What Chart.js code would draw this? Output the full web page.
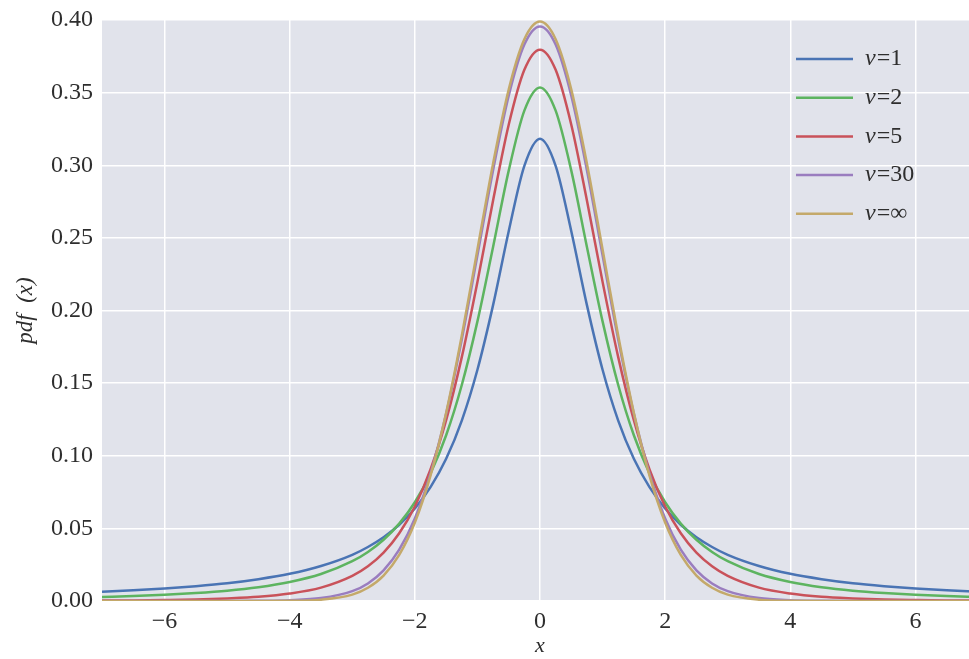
<!DOCTYPE html>
<html>
<head>
<meta charset="utf-8">
<script src="https://cdn.jsdelivr.net/npm/chart.js@4/dist/chart.umd.min.js"></script>
<style>
  html, body { margin: 0; padding: 0; background: #ffffff; overflow: hidden; }
  #wrap { width: 969px; height: 659px; overflow: hidden; }
</style>
</head>
<body>
<div id="wrap"><canvas id="chart" width="978" height="659"></canvas></div>
<script>
// x positions of the sampled points
const xs = [-7, -6.5, -6, -5.5, -5, -4.5, -4, -3.5, -3,
    -2.75, -2.5, -2.25, -2, -1.75, -1.5, -1.25, -1, -0.75, -0.5, -0.25,
    0,
    0.25, 0.5, 0.75, 1, 1.25, 1.5, 1.75, 2, 2.25, 2.5, 2.75,
    3, 3.5, 4, 4.5, 5, 5.5, 6, 6.5, 7];

// pdf values, one array per curve
const nu1 = [0.0064, 0.0074, 0.0086, 0.0102, 0.0122, 0.0150, 0.0187, 0.0241, 0.0318,
    0.0372, 0.0439, 0.0525, 0.0637, 0.0784, 0.0979, 0.1242, 0.1592, 0.2037, 0.2546, 0.2996,
    0.3183,
    0.2996, 0.2546, 0.2037, 0.1592, 0.1242, 0.0979, 0.0784, 0.0637, 0.0525, 0.0439, 0.0372,
    0.0318, 0.0241, 0.0187, 0.0150, 0.0122, 0.0102, 0.0086, 0.0074, 0.0064];
const nu2 = [0.0027, 0.0034, 0.0043, 0.0055, 0.0071, 0.0095, 0.0131, 0.0186, 0.0274,
    0.0338, 0.0422, 0.0533, 0.0680, 0.0878, 0.1141, 0.1487, 0.1925, 0.2438, 0.2963, 0.3376,
    0.3536,
    0.3376, 0.2963, 0.2438, 0.1925, 0.1487, 0.1141, 0.0878, 0.0680, 0.0533, 0.0422, 0.0338,
    0.0274, 0.0186, 0.0131, 0.0095, 0.0071, 0.0055, 0.0043, 0.0034, 0.0027];
const nu5 = [0.0003, 0.0004, 0.0007, 0.0011, 0.0018, 0.0029, 0.0051, 0.0092, 0.0173,
    0.0239, 0.0333, 0.0466, 0.0651, 0.0905, 0.1245, 0.1679, 0.2197, 0.2757, 0.3279, 0.3657,
    0.3796,
    0.3657, 0.3279, 0.2757, 0.2197, 0.1679, 0.1245, 0.0905, 0.0651, 0.0466, 0.0333, 0.0239,
    0.0173, 0.0092, 0.0051, 0.0029, 0.0018, 0.0011, 0.0007, 0.0004, 0.0003];
const nu30 = [0, 0, 0, 0, 0, 0.0001, 0.0005, 0.0020, 0.0068,
    0.0121, 0.0211, 0.0353, 0.0568, 0.0877, 0.1290, 0.1801, 0.2380, 0.2966, 0.3479, 0.3831,
    0.3956,
    0.3831, 0.3479, 0.2966, 0.2380, 0.1801, 0.1290, 0.0877, 0.0568, 0.0353, 0.0211, 0.0121,
    0.0068, 0.0020, 0.0005, 0.0001, 0, 0, 0, 0, 0];
const nuInf = [0, 0, 0, 0, 0, 0, 0.0001, 0.0009, 0.0044,
    0.0091, 0.0175, 0.0317, 0.0540, 0.0863, 0.1295, 0.1826, 0.2420, 0.3011, 0.3521, 0.3867,
    0.3989,
    0.3867, 0.3521, 0.3011, 0.2420, 0.1826, 0.1295, 0.0863, 0.0540, 0.0317, 0.0175, 0.0091,
    0.0044, 0.0009, 0.0001, 0, 0, 0, 0, 0, 0];

const labels = ['1', '2', '5', '30', '\u221e'];
const colors = ['#4a74b4', '#5db460', '#c9525a', '#9a7dbf', '#c4a96a'];
const xTicks = [-6, -4, -2, 0, 2, 4, 6];
const yTicks = [0, 0.05, 0.10, 0.15, 0.20, 0.25, 0.30, 0.35, 0.40];

const serif = '"Liberation Serif", "Times New Roman", serif';
const textColor = '#2e2e2e';

// grey plot background behind the grid
const plotBackground = {
    id: 'plotBackground',
    beforeDraw(chart) {
        const { ctx, chartArea: a } = chart;
        ctx.save();
        ctx.fillStyle = '#e1e3eb';
        ctx.fillRect(a.left, a.top, a.right - a.left, a.bottom - a.top);
        ctx.restore();
    }
};

// legend in the upper right with an italic "v"
const mathLegend = {
    id: 'mathLegend',
    afterDraw(chart) {
        const ctx = chart.ctx;
        ctx.save();
        ctx.textBaseline = 'middle';
        chart.data.datasets.forEach((ds, i) => {
            const y = 59 + i * 38.7;
            ctx.strokeStyle = ds.borderColor;
            ctx.lineWidth = 2.5;
            ctx.beginPath();
            ctx.moveTo(796, y);
            ctx.lineTo(853, y);
            ctx.stroke();
            ctx.fillStyle = textColor;
            ctx.font = 'italic 24px ' + serif;
            ctx.fillText('v', 865, y);
            const w = ctx.measureText('v').width;
            ctx.font = '24px ' + serif;
            ctx.fillText('=' + labels[i], 865 + w + 1, y);
        });
        ctx.restore();
    }
};

const series = [nu1, nu2, nu5, nu30, nuInf];

const ctx = document.getElementById('chart').getContext('2d');
const chart = new Chart(ctx, {
    type: 'line',
    data: {
        datasets: series.map((ys, i) => ({
            label: 'v=' + labels[i],
            data: xs.map((x, j) => ({ x: x, y: ys[j] })),
            borderColor: colors[i],
            borderWidth: 2.5,
            pointRadius: 0,
            fill: false,
            cubicInterpolationMode: 'monotone',
            order: series.length - i
        }))
    },
    options: {
        responsive: false,
        animation: false,
        layout: { padding: { top: 20, right: 0, left: 0, bottom: 0 } },
        plugins: {
            legend: { display: false },
            tooltip: { enabled: false }
        },
        scales: {
            x: {
                type: 'linear',
                min: -7,
                max: 7,
                afterBuildTicks: scale => { scale.ticks = xTicks.map(v => ({ value: v })); },
                afterFit: scale => {
                    scale.height = 58;
                    scale.paddingLeft = 0;
                    scale.paddingRight = 0;
                },
                grid: { color: '#ffffff', lineWidth: 1.5, drawTicks: false },
                border: { display: false },
                ticks: {
                    padding: 6,
                    color: textColor,
                    font: { family: serif, size: 24 },
                    callback: v => String(v).replace('-', '\u2212')
                },
                title: {
                    display: true,
                    text: 'x',
                    color: textColor,
                    font: { family: serif, size: 22, style: 'italic' },
                    padding: { top: 3, bottom: 0 }
                }
            },
            y: {
                min: 0,
                max: 0.4,
                afterBuildTicks: scale => { scale.ticks = yTicks.map(v => ({ value: v })); },
                afterFit: scale => {
                    scale.width = 102;
                    scale.paddingTop = 0;
                    scale.paddingBottom = 0;
                },
                grid: { color: '#ffffff', lineWidth: 1.5, drawTicks: false },
                border: { display: false },
                ticks: {
                    padding: 9,
                    color: textColor,
                    font: { family: serif, size: 24 },
                    callback: v => v.toFixed(2)
                },
                title: {
                    display: true,
                    text: 'pdf  (x)',
                    color: textColor,
                    font: { family: serif, size: 23, style: 'italic' },
                    padding: { top: 12, bottom: 0 }
                }
            }
        }
    },
    plugins: [plotBackground, mathLegend]
});
</script>
</body>
</html>
